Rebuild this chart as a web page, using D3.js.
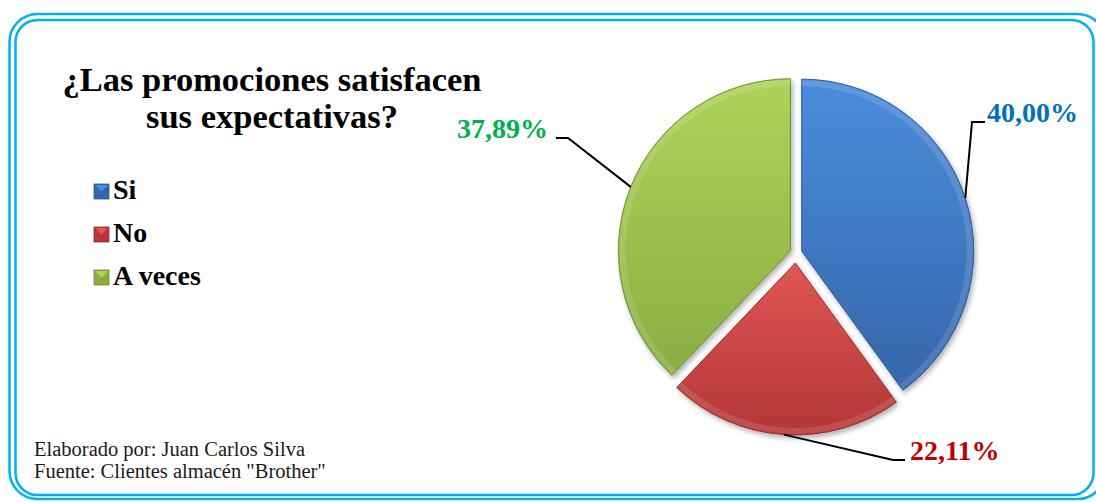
<!doctype html>
<meta charset=utf8>
<title>¿Las promociones satisfacen sus expectativas?</title>
<style>
  html, body {
    margin: 0;
    background: #fff;
  }

  svg {
    display: block;
    font-family: "Times New Roman", "Liberation Serif", serif;
  }
</style>
<svg width=1096 height=502></svg>
<script src=https://d3js.org/d3.v7.min.js></script>
<script>
  var categories = ['Si', 'No', 'A veces'];
  var values = [40.00, 22.11, 37.89];
  var valueLabels = ['40,00%', '22,11%', '37,89%'];
  var titleLines = ['¿Las promociones satisfacen', 'sus expectativas?'];
  var footerLines = ['Elaborado por: Juan Carlos Silva', 'Fuente: Clientes almacén "Brother"'];

  var fills = [['#4b8ddb', '#3566aa'], ['#e05656', '#b33636'], ['#aed35a', '#8aae42']];
  var edges = ['#2e5a96', '#9a2c2c', '#6f8c32'];
  var textColors = ['#0070c0', '#c00000', '#00b050'];

  var svg = d3.select('svg');
  var defs = svg.append('defs');

  // frame: double light-blue rounded border, cut by the window edge
  svg.append('rect').attr('x', 9.5).attr('y', 14).attr('width', 1096).attr('height', 485)
    .attr('rx', 28).attr('fill', 'none').attr('stroke', '#00b0f0').attr('stroke-width', 2.5);
  svg.append('rect').attr('x', 15.5).attr('y', 20).attr('width', 1078).attr('height', 475)
    .attr('rx', 22).attr('fill', 'none').attr('stroke', '#00b0f0').attr('stroke-width', 2.5);

  // title
  svg.append('text')
    .attr('x', 272).attr('y', 91)
    .attr('text-anchor', 'middle')
    .attr('font-size', 34.5).attr('font-weight', 'bold')
    .selectAll('tspan').data(titleLines).enter().append('tspan')
    .attr('x', 272).attr('dy', function (d, i) { return i ? 37 : 0; })
    .text(function (d) { return d; });

  // gradients
  fills.forEach(function (f, i) {
    var g = defs.append('linearGradient').attr('id', 'g' + i)
      .attr('x1', 0).attr('y1', 0).attr('x2', 0).attr('y2', 1);
    g.append('stop').attr('offset', '0%').attr('stop-color', f[0]);
    g.append('stop').attr('offset', '100%').attr('stop-color', f[1]);
  });
  var shadow = defs.append('filter').attr('id', 'shadow')
    .attr('x', '-20%').attr('y', '-20%').attr('width', '140%').attr('height', '140%');
  shadow.append('feDropShadow').attr('dx', 2).attr('dy', 3).attr('stdDeviation', 2.5)
    .attr('flood-color', '#000').attr('flood-opacity', 0.3);

  // legend
  var legend = svg.append('g').selectAll('g').data(categories).enter().append('g')
    .attr('transform', function (d, i) { return 'translate(94,' + (199 + i * 43) + ')'; });
  legend.append('rect').attr('y', -15).attr('width', 15).attr('height', 15)
    .attr('fill', function (d, i) { return fills[i][1]; })
    .attr('stroke', function (d, i) { return edges[i]; }).attr('stroke-width', 0.8);
  legend.append('path').attr('d', 'M1,-14L14,-14L7.5,-7.5Z')
    .attr('fill', function (d, i) { return fills[i][0]; });
  legend.append('text').attr('x', 19).attr('y', 0)
    .attr('font-size', 28).attr('font-weight', 'bold')
    .text(function (d) { return d; });

  // pie
  var cx = 796, cy = 253, r = 172;
  var explode = [6, 10, 6];
  var pie = d3.pie().sort(null).value(function (d) { return d; });
  var arc = d3.arc().innerRadius(0).outerRadius(r);
  var arcs = pie(values);

  function offset(d, i) {
    var a = (d.startAngle + d.endAngle) / 2;
    return [cx + explode[i] * Math.sin(a), cy - explode[i] * Math.cos(a)];
  }

  var slices = svg.append('g').selectAll('g').data(arcs).enter().append('g')
    .attr('transform', function (d, i) { var o = offset(d, i); return 'translate(' + o + ')'; });
  slices.append('path')
    .attr('d', arc)
    .attr('fill', function (d, i) { return 'url(#g' + i + ')'; })
    .attr('stroke', function (d, i) { return edges[i]; })
    .attr('stroke-width', 1)
    .attr('filter', 'url(#shadow)');
  // soft bevel highlight along the rim
  slices.append('path')
    .attr('d', d3.arc().innerRadius(r - 7).outerRadius(r - 1))
    .attr('fill', '#fff').attr('opacity', 0.12);

  // leader lines and labels
  var labelPos = [
    { x: 987, y: 122, anchor: 'start', stub: -15, elbow: -2 },
    { x: 910, y: 460, anchor: 'start', stub: -17, elbow: -5 },
    { x: 548, y: 138, anchor: 'end', stub: 20, elbow: 8 }
  ];

  arcs.forEach(function (d, i) {
    var o = offset(d, i);
    var a = (d.startAngle + d.endAngle) / 2;
    var p = labelPos[i];
    var pts = [
      [o[0] + r * Math.sin(a), o[1] - r * Math.cos(a)],
      [p.x + p.stub, p.y],
      [p.x + p.elbow, p.y]
    ];
    svg.append('path')
      .attr('d', d3.line()(pts))
      .attr('fill', 'none').attr('stroke', '#000').attr('stroke-width', 2);
    svg.append('text')
      .attr('x', p.x).attr('y', p.y)
      .attr('text-anchor', p.anchor)
      .attr('font-size', 28).attr('font-weight', 'bold')
      .attr('fill', textColors[i])
      .text(valueLabels[i]);
  });

  // footer
  svg.append('g').selectAll('text').data(footerLines).enter().append('text')
    .attr('x', 34).attr('y', function (d, i) { return 456 + i * 22; })
    .attr('font-size', 20.5)
    .attr('fill', '#1a1a1a')
    .text(function (d) { return d; });
</script>
